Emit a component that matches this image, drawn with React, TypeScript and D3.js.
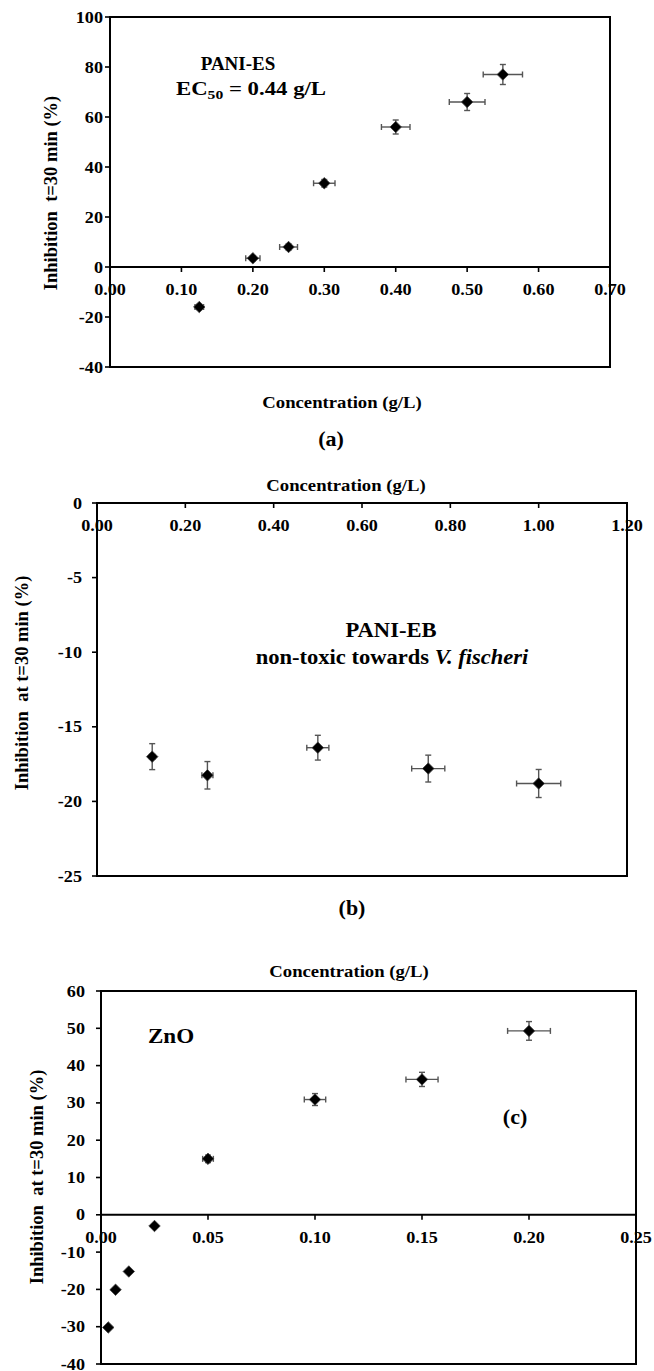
import { useEffect, useRef } from "react";
import * as d3 from "d3";

// ---- data ----
const esConc = [0.125, 0.2, 0.25, 0.3, 0.4, 0.5, 0.55];
const esInhib = [-16, 3.5, 8, 33.5, 56, 66, 77];
const esConcErr = [0.006, 0.01, 0.0125, 0.015, 0.02, 0.025, 0.0275];
const esInhibErr = [1, 1, 1.2, 1.5, 2.8, 3.4, 4];

const ebConc = [0.125, 0.25, 0.5, 0.75, 1.0];
const ebInhib = [-17, -18.25, -16.4, -17.8, -18.8];
const ebConcErr = [0.006, 0.0125, 0.025, 0.0375, 0.05];
const ebInhibErr = [0.87, 0.92, 0.83, 0.9, 0.94];

const znoConc = [0.0034, 0.0068, 0.013, 0.025, 0.05, 0.1, 0.15, 0.2];
const znoInhib = [-30.2, -20.1, -15.2, -3, 15, 30.9, 36.3, 49.3];
const znoConcErr = [0, 0, 0, 0, 0.0025, 0.005, 0.0075, 0.01];
const znoInhibErr = [0, 0, 0, 0, 1, 1.6, 1.9, 2.5];

const esXTicks = [0, 0.1, 0.2, 0.3, 0.4, 0.5, 0.6, 0.7];
const esYTicks = [-40, -20, 0, 20, 40, 60, 80, 100];
const ebXTicks = [0, 0.2, 0.4, 0.6, 0.8, 1.0, 1.2];
const ebYTicks = [-25, -20, -15, -10, -5, 0];
const znoXTicks = [0, 0.05, 0.1, 0.15, 0.2, 0.25];
const znoYTicks = [-40, -30, -20, -10, 0, 10, 20, 30, 40, 50, 60];

const FONT = "Liberation Serif, Times New Roman, serif";
const ERR_COLOR = "#555";
// the scanned figure is a bit wider than plain Times, so stretch text horizontally
const STRETCH = 1.1;

type Sel = d3.Selection<SVGSVGElement, unknown, null, undefined>;
type GSel = d3.Selection<SVGGElement, unknown, null, undefined>;

type Panel = {
  box: { left: number; right: number; top: number; bottom: number };
  xDomain: [number, number];
  yDomain: [number, number];
  xTicks: number[];
  yTicks: number[];
  yLabelGap: number;
  conc: number[];
  inhib: number[];
  concErr: number[];
  inhibErr: number[];
};

const PANELS: Panel[] = [
  {
    box: { left: 110, right: 610, top: 17, bottom: 367 },
    xDomain: [0, 0.7],
    yDomain: [-40, 100],
    xTicks: esXTicks,
    yTicks: esYTicks,
    yLabelGap: 7,
    conc: esConc,
    inhib: esInhib,
    concErr: esConcErr,
    inhibErr: esInhibErr,
  },
  {
    box: { left: 97, right: 627, top: 503, bottom: 876 },
    xDomain: [0, 1.2],
    yDomain: [-25, 0],
    xTicks: ebXTicks,
    yTicks: ebYTicks,
    yLabelGap: 15,
    conc: ebConc,
    inhib: ebInhib,
    concErr: ebConcErr,
    inhibErr: ebInhibErr,
  },
  {
    box: { left: 101, right: 636, top: 991, bottom: 1364 },
    xDomain: [0, 0.25],
    yDomain: [-40, 60],
    xTicks: znoXTicks,
    yTicks: znoYTicks,
    yLabelGap: 16,
    conc: znoConc,
    inhib: znoInhib,
    concErr: znoConcErr,
    inhibErr: znoInhibErr,
  },
];

function label(
  parent: Sel | GSel,
  x: number,
  y: number,
  size: number,
  anchor = "middle",
  text = "",
  stretch = STRETCH
) {
  return (parent as GSel)
    .append("text")
    .attr("transform", `translate(${x},${y}) scale(${stretch},1)`)
    .attr("text-anchor", anchor)
    .attr("font-family", FONT)
    .attr("font-weight", "bold")
    .attr("font-size", size)
    .text(text);
}

function vLabel(svg: Sel, x: number, y: number, size: number, text: string) {
  svg
    .append("text")
    .attr("transform", `translate(${x},${y}) rotate(-90)`)
    .attr("text-anchor", "middle")
    .attr("font-family", FONT)
    .attr("font-weight", "bold")
    .attr("font-size", size)
    .style("white-space", "pre")
    .text(text);
}

function drawPanel(svg: Sel, p: Panel) {
  const { left, right, top, bottom } = p.box;
  const x = d3.scaleLinear().domain(p.xDomain).range([left, right]);
  const y = d3.scaleLinear().domain(p.yDomain).range([bottom, top]);
  const g = svg.append("g");

  // plot frame
  g.append("rect")
    .attr("x", left)
    .attr("y", top)
    .attr("width", right - left)
    .attr("height", bottom - top)
    .attr("fill", "none")
    .attr("stroke", "#000")
    .attr("stroke-width", 2);

  // y ticks + labels
  p.yTicks.forEach((t) => {
    g.append("line")
      .attr("x1", left - 5)
      .attr("x2", left)
      .attr("y1", y(t))
      .attr("y2", y(t))
      .attr("stroke", "#000")
      .attr("stroke-width", 1.6);
    label(g, left - p.yLabelGap, y(t) + 5.5, 16.5, "end", String(t));
  });

  // x axis along inhibition = 0
  const y0 = y(0);
  g.append("line")
    .attr("x1", left)
    .attr("x2", right)
    .attr("y1", y0)
    .attr("y2", y0)
    .attr("stroke", "#000")
    .attr("stroke-width", 2);
  p.xTicks.forEach((t) => {
    g.append("line")
      .attr("x1", x(t))
      .attr("x2", x(t))
      .attr("y1", y0)
      .attr("y2", y0 + 5)
      .attr("stroke", "#000")
      .attr("stroke-width", 1.6);
    label(g, x(t), y0 + 28, 16.5, "middle", t.toFixed(2));
  });

  // error bars
  const cap = 3;
  const seg = (x1: number, y1: number, x2: number, y2: number) =>
    g.append("line")
      .attr("x1", x1).attr("y1", y1).attr("x2", x2).attr("y2", y2)
      .attr("stroke", ERR_COLOR)
      .attr("stroke-width", 1.4);
  p.conc.forEach((c, i) => {
    const cx = x(c);
    const cy = y(p.inhib[i]);
    const ex = p.concErr[i];
    const ey = p.inhibErr[i];
    if (ex > 0) {
      const xa = x(c - ex);
      const xb = x(c + ex);
      seg(xa, cy, xb, cy);
      seg(xa, cy - cap, xa, cy + cap);
      seg(xb, cy - cap, xb, cy + cap);
    }
    if (ey > 0) {
      const ya = y(p.inhib[i] + ey);
      const yb = y(p.inhib[i] - ey);
      seg(cx, ya, cx, yb);
      seg(cx - cap, ya, cx + cap, ya);
      seg(cx - cap, yb, cx + cap, yb);
    }
  });

  // diamond markers
  const diamond = d3.symbol().type(d3.symbolDiamond2).size(84);
  g.selectAll("path.pt")
    .data(p.conc)
    .join("path")
    .attr("class", "pt")
    .attr("transform", (c, i) => `translate(${x(c)},${y(p.inhib[i])})`)
    .attr("d", diamond())
    .attr("fill", "#000")
    .attr("stroke", "#444")
    .attr("stroke-width", 0.8);
}

export default function App() {
  const ref = useRef<SVGSVGElement | null>(null);

  useEffect(() => {
    const el = ref.current;
    if (!el) return;
    const svg = d3.select(el);
    svg.selectAll("*").remove();

    PANELS.forEach((p) => drawPanel(svg, p));

    // panel (a) labels
    vLabel(svg, 57, 193, 18.5, "Inhibition  t=30 min (%)");
    label(svg, 342, 408, 17, "middle", "Concentration  (g/L)");
    label(svg, 331, 446, 20, "middle", "(a)");
    label(svg, 238, 70, 19, "middle", "PANI-ES", 1.0);
    const ec = label(svg, 251, 94.5, 19, "middle", "", 1.2);
    ec.append("tspan").text("EC");
    ec.append("tspan").attr("font-size", 13).attr("dy", 4).text("50");
    ec.append("tspan").attr("dy", -4).text(" = 0.44 g/L");

    // panel (b) labels
    vLabel(svg, 28, 683, 18.5, "Inhibition  at t=30 min (%)");
    label(svg, 346, 491, 17, "middle", "Concentration  (g/L)");
    label(svg, 352, 915, 20, "middle", "(b)");
    label(svg, 391, 637, 20.5, "middle", "PANI-EB");
    const nt = label(svg, 392, 664, 20.5, "middle");
    nt.append("tspan").text("non-toxic towards ");
    nt.append("tspan").attr("font-style", "italic").text("V. fischeri");

    // panel (c) labels
    vLabel(svg, 43, 1177, 18.5, "Inhibition  at t=30 min (%)");
    label(svg, 349, 977, 17, "middle", "Concentration  (g/L)");
    label(svg, 171, 1043, 21, "middle", "ZnO");
    label(svg, 515, 1124, 20, "middle", "(c)");
  }, []);

  return (
    <svg
      ref={ref}
      width={654}
      height={1371}
      style={{ position: "absolute", left: 0, top: 0, background: "#fff" }}
    />
  );
}
